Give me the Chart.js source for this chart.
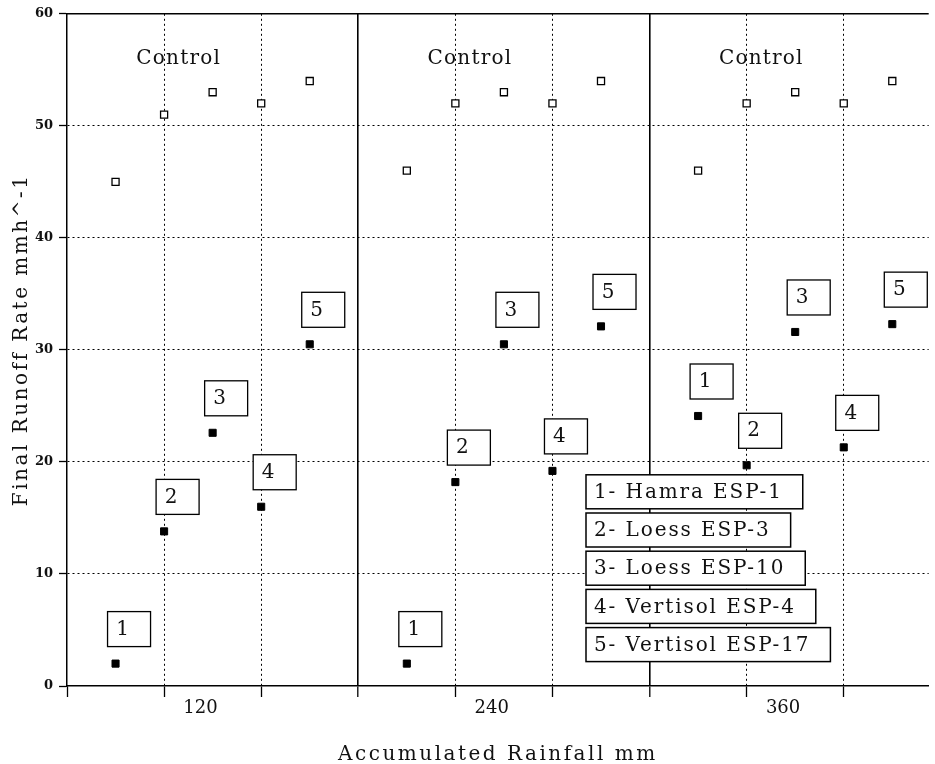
<!DOCTYPE html>
<html>
<head>
<meta charset="utf-8">
<script src="https://cdn.jsdelivr.net/npm/chart.js@4.4.0/dist/chart.umd.min.js"></script>
<style>
  html, body { margin: 0; padding: 0; background: #fff; }
</style>
</head>
<body>
<canvas id="runoffChart" width="935" height="764"></canvas>
<script>
const rainfall = [120, 240, 360];
const soilIds = ['1', '2', '3', '4', '5'];
const soilNames = ['Hamra ESP-1', 'Loess ESP-3', 'Loess ESP-10', 'Vertisol ESP-4', 'Vertisol ESP-17'];
const control120 = [45, 51, 53, 52, 54];
const control240 = [46, 52, 53, 52, 54];
const control360 = [46, 52, 53, 52, 54];
const treated120 = [2.0, 13.8, 22.6, 16.0, 30.5];
const treated240 = [2.0, 18.2, 30.5, 19.2, 32.1];
const treated360 = [24.1, 19.7, 31.6, 21.3, 32.3];
const controlLabel = 'Control';
const yTicks = [0, 10, 20, 30, 40, 50, 60];

const controls = [control120, control240, control360];
const treated = [treated120, treated240, treated360];

// every rainfall group takes 6 slots on the x scale (5 soils + gap)
const slot = (g, s) => g * 6 + s + 1;
const tickVals = [0, 2, 4, 6, 8, 10, 12, 14, 16];
const groupEdges = [6, 12];
const labelVals = rainfall.map((r, g) => g * 6 + 2.75);

const serif = "'DejaVu Serif', 'Liberation Serif', serif";
const ink = '#111';
const clear = 'rgba(0,0,0,0)';

const controlPts = [], treatedPts = [];
controls.forEach((arr, g) => arr.forEach((v, s) => controlPts.push({ x: slot(g, s), y: v })));
treated.forEach((arr, g) => arr.forEach((v, s) => treatedPts.push({ x: slot(g, s), y: v })));

const tickValue = c => (c.tick ? c.tick.value : undefined);

const annotate = {
  id: 'annotate',
  beforeDatasetsDraw(chart) {
    const { ctx, chartArea: a } = chart;
    ctx.save();
    ctx.strokeStyle = '#000';
    ctx.lineWidth = 1.5;
    ctx.beginPath();
    ctx.moveTo(a.left, a.top);
    ctx.lineTo(a.right, a.top);
    ctx.stroke();
    ctx.restore();
  },
  afterDatasetsDraw(chart) {
    const { ctx, chartArea: a, scales: { x, y } } = chart;
    ctx.save();
    ctx.fillStyle = ink;
    ctx.strokeStyle = '#000';

    // Control captions
    ctx.font = '20px ' + serif;
    ctx.letterSpacing = '1.2px';
    ctx.textAlign = 'center';
    ctx.textBaseline = 'middle';
    rainfall.forEach((r, g) => {
      ctx.fillText(controlLabel, x.getPixelForValue(g * 6 + 2.3), y.getPixelForValue(56));
    });

    // numbered boxes above the treated points
    ctx.letterSpacing = '0px';
    ctx.lineWidth = 1.3;
    chart.getDatasetMeta(1).data.forEach((pt, i) => {
      const bx = pt.x - 8, by = pt.y - 17 - 35;
      ctx.fillStyle = '#fff';
      ctx.fillRect(bx, by, 43, 35);
      ctx.strokeRect(bx, by, 43, 35);
      ctx.fillStyle = ink;
      ctx.fillText(soilIds[i % 5], bx + 15, by + 18);
    });

    // legend boxes
    ctx.font = '20px ' + serif;
    ctx.letterSpacing = '1.9px';
    ctx.textAlign = 'left';
    const lx = a.left + 519, ly = a.top + 461;
    soilNames.forEach((name, i) => {
      const txt = soilIds[i] + '- ' + name;
      const w = ctx.measureText(txt).width + 28;
      const top = ly + i * 38.2;
      ctx.fillStyle = '#fff';
      ctx.fillRect(lx, top, w, 34);
      ctx.lineWidth = 1.5;
      ctx.strokeRect(lx, top, w, 34);
      ctx.fillStyle = ink;
      ctx.fillText(txt, lx + 8, top + 18);
    });

    // axis titles
    ctx.letterSpacing = '2.5px';
    ctx.textAlign = 'center';
    ctx.textBaseline = 'alphabetic';
    ctx.fillText('Accumulated Rainfall mm', (a.left + a.right) / 2, 760);
    ctx.save();
    ctx.translate(27, (a.top + a.bottom) / 2 - 10);
    ctx.rotate(-Math.PI / 2);
    ctx.fillText('Final Runoff Rate mmh^-1', 0, 0);
    ctx.restore();
    ctx.restore();
  }
};

new Chart(document.getElementById('runoffChart').getContext('2d'), {
  type: 'scatter',
  data: {
    datasets: [
      {
        label: controlLabel,
        data: controlPts,
        pointStyle: 'rect',
        radius: 5,
        borderWidth: 1.3,
        borderColor: '#000',
        backgroundColor: '#fff'
      },
      {
        label: 'Treated',
        data: treatedPts,
        pointStyle: 'rect',
        radius: 5,
        borderWidth: 1,
        borderColor: '#000',
        backgroundColor: '#000'
      }
    ]
  },
  options: {
    responsive: false,
    devicePixelRatio: 1,
    animation: false,
    layout: { padding: { top: 12, right: 0, left: 0, bottom: 0 } },
    plugins: {
      legend: { display: false },
      tooltip: { enabled: false }
    },
    scales: {
      x: {
        type: 'linear',
        min: 0,
        max: 17.75,
        afterBuildTicks: scale => {
          scale.ticks = tickVals.concat(labelVals).map(v => ({ value: v }));
        },
        afterFit: scale => { scale.height = 78; },
        ticks: {
          autoSkip: false,
          maxRotation: 0,
          padding: 1,
          color: ink,
          font: { family: serif, size: 18 },
          callback: v => {
            const i = labelVals.indexOf(v);
            return i >= 0 ? String(rainfall[i]) : '';
          }
        },
        grid: {
          color: c => {
            const v = tickValue(c);
            return (v === 0 || labelVals.includes(v)) ? clear : '#000';
          },
          tickColor: c => (labelVals.includes(tickValue(c)) ? clear : '#000'),
          lineWidth: c => (groupEdges.includes(tickValue(c)) ? 1.6 : 1),
          tickLength: 11,
          tickWidth: 1.3
        },
        border: {
          display: true,
          color: '#000',
          width: 1.5,
          dash: c => (groupEdges.includes(tickValue(c)) ? [] : [2, 3])
        }
      },
      y: {
        min: 0,
        max: 60,
        afterBuildTicks: scale => { scale.ticks = yTicks.map(v => ({ value: v })); },
        afterFit: scale => { scale.width = 67; },
        ticks: {
          padding: 6,
          color: ink,
          font: { family: serif, size: 13, weight: 'bold' }
        },
        grid: {
          color: c => {
            const v = tickValue(c);
            return (v === 0 || v === 60) ? clear : '#000';
          },
          tickColor: '#000',
          tickLength: 8,
          tickWidth: 1.3
        },
        border: {
          display: true,
          color: '#000',
          width: 1.5,
          dash: [2, 3]
        }
      }
    }
  },
  plugins: [annotate]
});
</script>
</body>
</html>
